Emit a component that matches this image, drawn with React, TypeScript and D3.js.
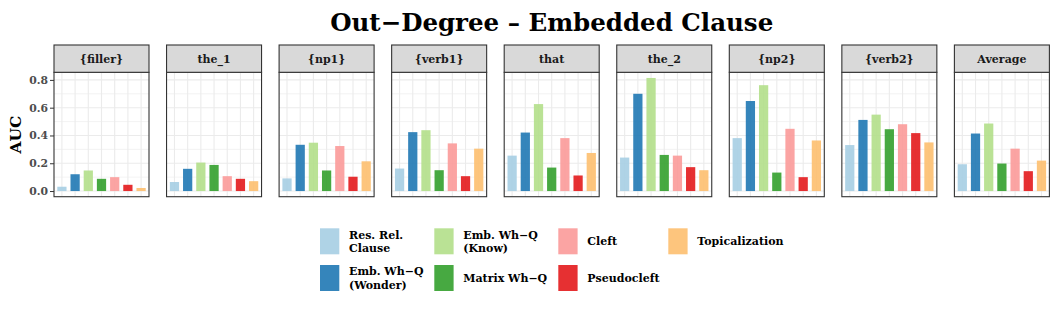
import React, { useEffect, useRef } from 'react';
import * as d3 from 'd3';

// facet panels and series
const panels = ['{filler}', 'the_1', '{np1}', '{verb1}', 'that', 'the_2', '{np2}', '{verb2}', 'Average'];
const series = [
  'Res. Rel. Clause',
  'Emb. Wh−Q (Wonder)',
  'Emb. Wh−Q (Know)',
  'Matrix Wh−Q',
  'Cleft',
  'Pseudocleft',
  'Topicalization',
];
const legendLines = [
  ['Res. Rel.', 'Clause'],
  ['Emb. Wh−Q', '(Wonder)'],
  ['Emb. Wh−Q', '(Know)'],
  ['Matrix Wh−Q'],
  ['Cleft'],
  ['Pseudocleft'],
  ['Topicalization'],
];
const colors = ['#A6CEE3', '#1F78B4', '#B2DF8A', '#33A02C', '#FB9A99', '#E31A1C', '#FDBF6F'];

// AUC per panel, in series order
const fillerVals = [0.031, 0.121, 0.148, 0.088, 0.1, 0.045, 0.022];
const the1Vals = [0.065, 0.16, 0.205, 0.188, 0.107, 0.088, 0.071];
const np1Vals = [0.091, 0.333, 0.348, 0.148, 0.324, 0.103, 0.214];
const verb1Vals = [0.162, 0.424, 0.438, 0.15, 0.343, 0.107, 0.305];
const thatVals = [0.255, 0.421, 0.626, 0.169, 0.381, 0.112, 0.274];
const the2Vals = [0.241, 0.7, 0.814, 0.26, 0.255, 0.172, 0.15];
const np2Vals = [0.381, 0.648, 0.762, 0.133, 0.448, 0.1, 0.364];
const verb2Vals = [0.331, 0.512, 0.55, 0.445, 0.481, 0.417, 0.35];
const averageVals = [0.193, 0.414, 0.486, 0.198, 0.305, 0.143, 0.219];
const panelVals = [fillerVals, the1Vals, np1Vals, verb1Vals, thatVals, the2Vals, np2Vals, verb2Vals, averageVals];

const yTicks = [0, 0.2, 0.4, 0.6, 0.8];
const yMinor = [0.1, 0.3, 0.5, 0.7];

const W = 1058;
const H = 309;
const FONT = '"DejaVu Serif", serif';

const App = () => {
  const ref = useRef<SVGSVGElement>(null);

  useEffect(() => {
    const svg = d3.select(ref.current);
    svg.selectAll('*').remove();

    const panelLeft = 54;
    const panelStep = 112.55;
    const panelW = 95;
    const stripTop = 45;
    const stripH = 27.3;
    const plotTop = stripTop + stripH;
    const plotBottom = 196.7;

    const maxV = d3.max(panelVals.flat()) as number;
    const pad = maxV * 0.05;
    const y = d3.scaleLinear().domain([-pad, maxV + pad]).range([plotBottom, plotTop]);

    // title
    svg.append('text')
      .attr('x', panelLeft + (panelStep * 8 + panelW) / 2)
      .attr('y', 31)
      .attr('text-anchor', 'middle')
      .style('font-family', FONT)
      .style('font-weight', 'bold')
      .style('font-size', '24.5px')
      .text('Out−Degree – Embedded Clause');

    // y axis title
    svg.append('text')
      .attr('transform', `translate(21, ${(plotTop + plotBottom) / 2}) rotate(-90)`)
      .attr('text-anchor', 'middle')
      .style('font-family', FONT)
      .style('font-weight', 'bold')
      .style('font-size', '15.5px')
      .text('AUC');

    // y axis on first panel
    const axis = svg.append('g').attr('transform', `translate(${panelLeft},0)`)
      .call(d3.axisLeft(y).tickValues(yTicks).tickFormat(d3.format('.1f')).tickSize(4).tickPadding(2));
    axis.select('.domain').remove();
    axis.selectAll('line').attr('stroke', '#333333');
    axis.selectAll('text')
      .attr('fill', '#4D4D4D')
      .style('font-family', FONT)
      .style('font-weight', 'bold')
      .style('font-size', '10.8px');

    panels.forEach((name, i) => {
      const left = panelLeft + i * panelStep;
      const g = svg.append('g').attr('transform', `translate(${left},0)`);
      // ggplot-like discrete expansion: 0.6 units per side
      const x = d3.scaleLinear().domain([0.4, series.length + 0.6]).range([0, panelW]);
      const bw = (x(1) - x(0)) * 0.7;

      // grid
      yMinor.forEach((t) => {
        g.append('line').attr('x1', 0).attr('x2', panelW).attr('y1', y(t)).attr('y2', y(t))
          .attr('stroke', '#EBEBEB').attr('stroke-width', 0.6);
      });
      yTicks.forEach((t) => {
        g.append('line').attr('x1', 0).attr('x2', panelW).attr('y1', y(t)).attr('y2', y(t))
          .attr('stroke', '#EBEBEB').attr('stroke-width', 1.1);
      });
      series.forEach((s, k) => {
        g.append('line').attr('x1', x(k + 1)).attr('x2', x(k + 1)).attr('y1', plotTop).attr('y2', plotBottom)
          .attr('stroke', '#EBEBEB').attr('stroke-width', 1.1);
      });

      // bars
      g.selectAll('rect.bar')
        .data(panelVals[i])
        .join('rect')
        .attr('class', 'bar')
        .attr('x', (d, k) => x(k + 1) - bw / 2)
        .attr('width', bw)
        .attr('y', (d) => y(d))
        .attr('height', (d) => y(0) - y(d))
        .attr('fill', (d, k) => colors[k])
        .attr('fill-opacity', 0.9);

      // panel border
      g.append('rect').attr('x', 0).attr('y', plotTop).attr('width', panelW).attr('height', plotBottom - plotTop)
        .attr('fill', 'none').attr('stroke', '#333333').attr('stroke-width', 1.1);

      // strip
      g.append('rect').attr('x', 0).attr('y', stripTop).attr('width', panelW).attr('height', stripH)
        .attr('fill', '#D9D9D9').attr('stroke', '#333333').attr('stroke-width', 1.1);
      g.append('text')
        .attr('x', panelW / 2)
        .attr('y', stripTop + stripH / 2 + 4)
        .attr('text-anchor', 'middle')
        .attr('fill', '#1A1A1A')
        .style('font-family', FONT)
        .style('font-weight', 'bold')
        .style('font-size', '11px')
        .text(name);
    });

    // legend, column-major, 2 rows
    const colX = [320, 434.3, 558.3, 668.3];
    const rowY = [228.3, 265];
    const keyW = 19.3;
    const keyH = 26;
    series.forEach((s, k) => {
      const col = Math.floor(k / 2);
      const row = k % 2;
      const kx = colX[col];
      const ky = rowY[row];
      svg.append('rect').attr('x', kx).attr('y', ky).attr('width', keyW).attr('height', keyH)
        .attr('fill', colors[k]).attr('fill-opacity', 0.9);
      const lines = legendLines[k];
      const t = svg.append('text')
        .style('font-family', FONT)
        .style('font-weight', 'bold')
        .style('font-size', '11px');
      const lh = 13.3;
      const y0 = ky + keyH / 2 + 4 - ((lines.length - 1) * lh) / 2;
      lines.forEach((ln, j) => {
        t.append('tspan').attr('x', kx + 29).attr('y', y0 + j * lh).text(ln);
      });
    });
  }, []);

  return <svg ref={ref} width={W} height={H} style={{ display: 'block', margin: '-8px' }} />;
};

export default App;
